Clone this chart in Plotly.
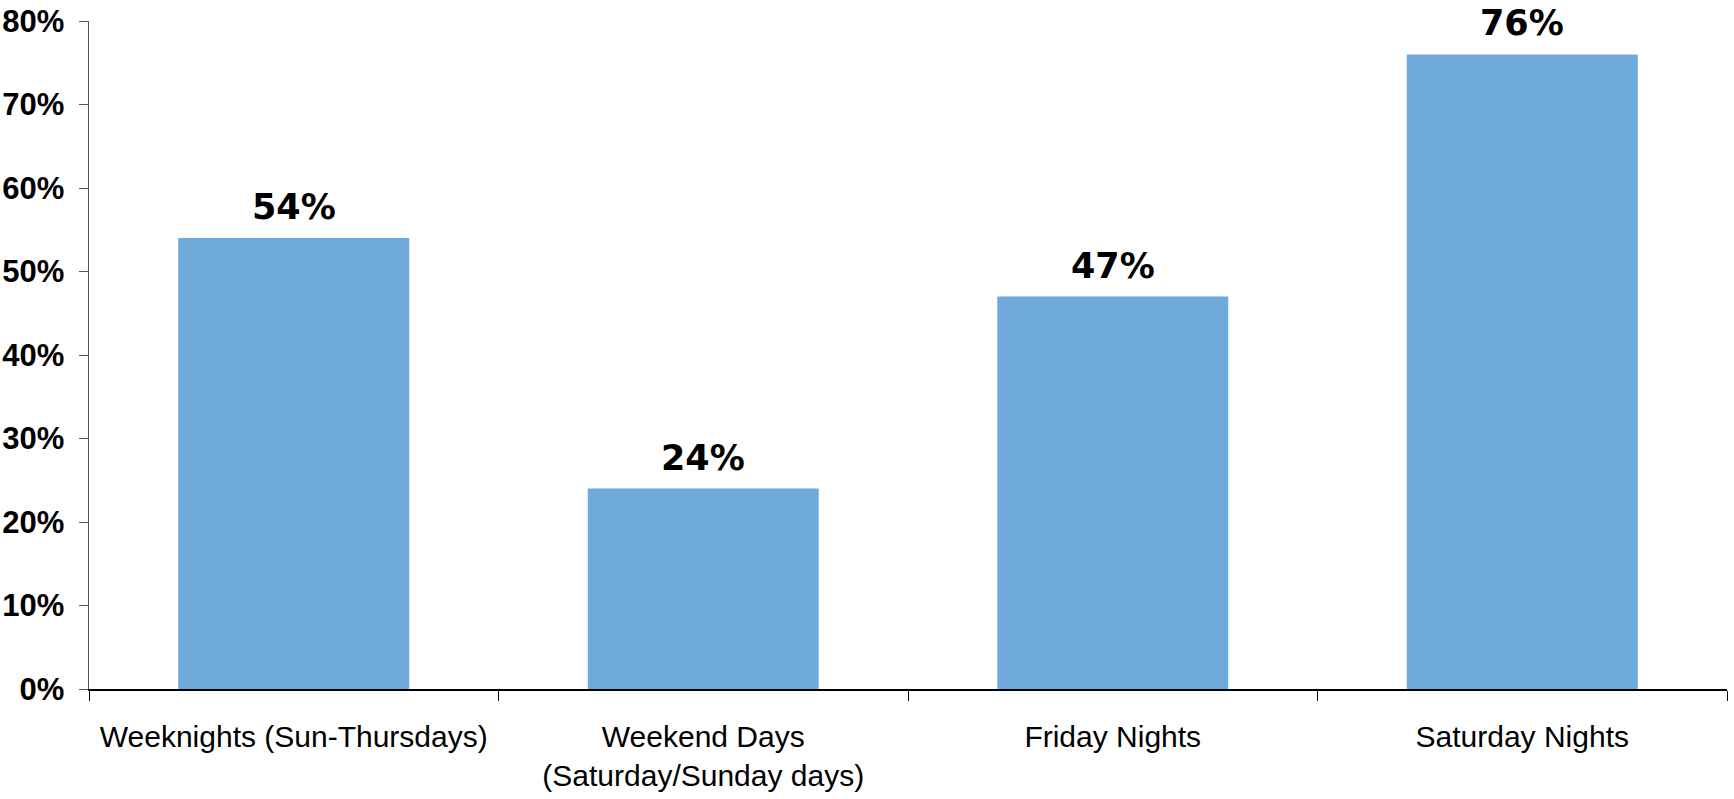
import plotly.graph_objects as go

categories = ["Weeknights (Sun-Thursdays)", "Weekend Days<br>(Saturday/Sunday days)", "Friday Nights", "Saturday Nights"]
values = [54, 24, 47, 76]
labels = ["54%", "24%", "47%", "76%"]
y_ticks = [0, 10, 20, 30, 40, 50, 60, 70, 80]
y_ticktext = ["0%", "10%", "20%", "30%", "40%", "50%", "60%", "70%", "80%"]

BAR = "#70A9DC"
NARROW = "Liberation Sans, Arial, sans-serif"

fig = go.Figure()
fig.add_trace(go.Bar(x=categories, y=values, marker=dict(color=BAR, line=dict(width=0)), width=0.564, hoverinfo="skip"))

for c, v, t in zip(categories, values, labels):
    fig.add_annotation(x=c, y=v, text="<b>" + t + "</b>", showarrow=False, yanchor="bottom", yshift=9,
                       font=dict(family="DejaVu Sans, Verdana, sans-serif", size=35, color="black"))

fig.update_layout(
    width=1734, height=799,
    margin=dict(l=89, r=7, t=21, b=110, autoexpand=False),
    plot_bgcolor="white", paper_bgcolor="white",
    showlegend=False,
)
fig.update_xaxes(
    type="category", automargin=False, tickangle=0,
    showline=True, linecolor="black", linewidth=1.5,
    ticks="outside", tickson="boundaries", ticklen=10, tickcolor="black", tickwidth=1,
    tickfont=dict(family=NARROW, size=30, color="black"),
    ticklabelstandoff=20,
    showgrid=False, zeroline=False,
)
fig.update_yaxes(
    range=[0, 80], tickvals=y_ticks, ticktext=["<b>" + t + "</b>" for t in y_ticktext],
    automargin=False, ticklabeloverflow="allow",
    showline=True, linecolor="#555555", linewidth=1.5,
    ticks="outside", ticklen=9, tickcolor="#555555",
    tickfont=dict(family=NARROW, size=31, color="black"),
    ticklabelstandoff=8,
    showgrid=False, zeroline=False,
)

fig.write_html(
    "out.html",
    config={"displayModeBar": False, "staticPlot": True},
    post_script="document.body.style.margin='0';document.body.style.overflow='hidden';",
)
